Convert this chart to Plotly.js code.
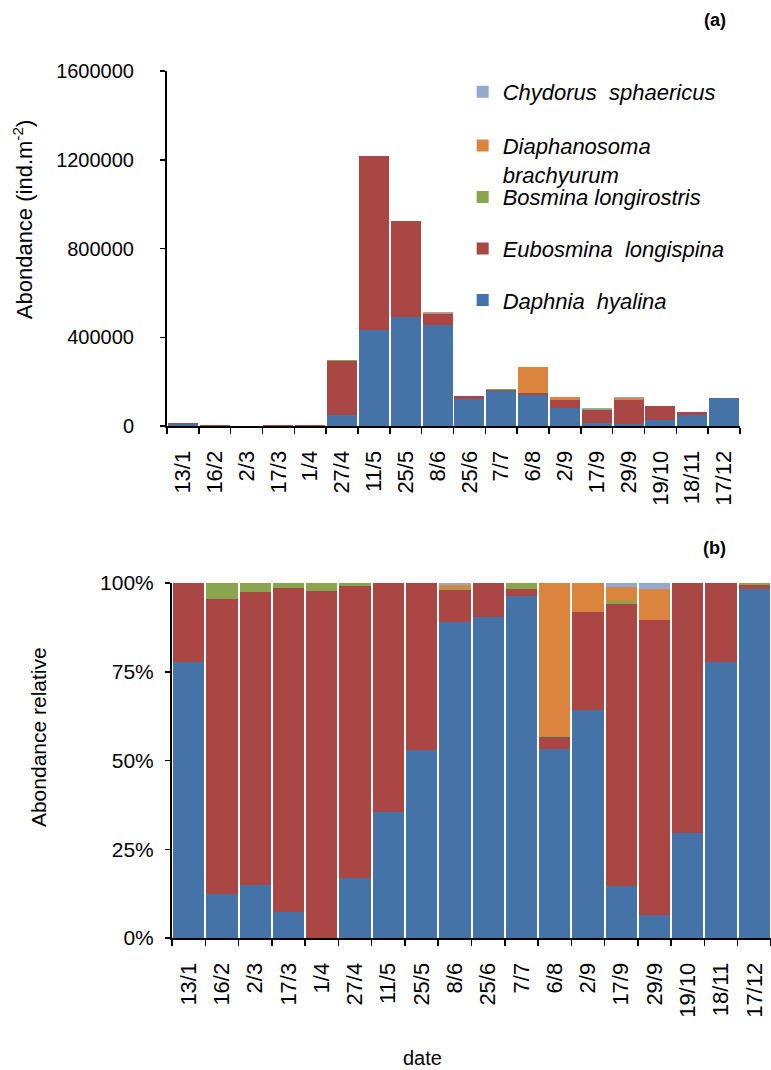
<!DOCTYPE html>
<html>
<head>
<meta charset="utf-8">
<script src="https://cdn.plot.ly/plotly-3.0.1.min.js"></script>
<style>
  html, body { margin: 0; padding: 0; background: #ffffff; }
  #top { position: absolute; left: 0; top: 0; width: 771px; height: 530px; }
  #bottom { position: absolute; left: 0; top: 530px; width: 771px; height: 540px; }
</style>
</head>
<body>
<div id="top"></div>
<div id="bottom"></div>
<script>
// Sampling dates
const dates = ['13/1','16/2','2/3','17/3','1/4','27/4','11/5','25/5','8/6','25/6','7/7','6/8','2/9','17/9','29/9','19/10','18/11','17/12'];

// Abundance (ind.m-2) per species
const daphnia      = [10900, 750, 300, 440, 0, 50700, 431000, 491000, 457000, 121000, 159700, 141000, 83000, 11500, 8400, 26000, 48200, 125800];
const eubosmina    = [3100, 4980, 1650, 5480, 5860, 244400, 784000, 435000, 46800, 13000, 3300, 9000, 35500, 62800, 107000, 62000, 13800, 1500];
const bosmina      = [0, 270, 50, 80, 140, 2900, 0, 0, 1000, 0, 3000, 1000, 0, 700, 0, 0, 0, 700];
const diaphanosoma = [0, 0, 0, 0, 0, 0, 0, 0, 6200, 0, 0, 114000, 10500, 3000, 11300, 0, 0, 0];
const chydorus     = [0, 0, 0, 0, 0, 0, 0, 0, 2600, 0, 0, 0, 0, 1000, 2300, 0, 0, 0];

const speciesNames = ['Daphnia  hyalina', 'Eubosmina  longispina', 'Bosmina longirostris', 'Diaphanosoma<br>brachyurum', 'Chydorus  sphaericus'];
const speciesData = [daphnia, eubosmina, bosmina, diaphanosoma, chydorus];
const speciesColors = ['#4572A7', '#AA4643', '#89A54E', '#DB843D', '#93A9CF'];
// which legend box each species is listed in (two boxes keep the spacing even)
const speciesLegend = ['legend2', 'legend2', 'legend2', 'legend', 'legend'];

const FONT = '"Liberation Sans", Arial, sans-serif';

function makeTraces(showLegend) {
  return speciesData.map((vals, i) => ({
    type: 'bar',
    x: dates,
    y: vals,
    name: speciesNames[i],
    legend: speciesLegend[i],
    legendgroup: 'g' + i,
    legendrank: 100 - i,
    showlegend: showLegend,
    marker: { color: speciesColors[i], line: { width: 0 } },
    hoverinfo: 'x+y+name'
  }));
}

const axisCommon = {
  showline: true, linecolor: '#000', linewidth: 2,
  ticks: 'outside', tickcolor: '#000', tickwidth: 1.5,
  showgrid: false, zeroline: false,
  tickfont: { family: FONT, size: 20, color: '#000' }
};

const xTickFont = { family: FONT, size: 22, color: '#000' };
const legendFont = { family: FONT, size: 22, style: 'italic', color: '#000' };

const topLayout = {
  width: 771, height: 530,
  margin: { l: 167, r: 31, t: 71, b: 104, pad: 0 },
  paper_bgcolor: '#fff', plot_bgcolor: '#fff',
  barmode: 'stack', bargap: 0.06,
  font: { family: FONT, color: '#000' },
  xaxis: Object.assign({}, axisCommon, {
    type: 'category', tickson: 'boundaries', ticklen: 6, tickangle: -90,
    ticklabelstandoff: 14, tickfont: xTickFont
  }),
  yaxis: Object.assign({}, axisCommon, {
    range: [0, 1600000], dtick: 400000, tickformat: 'd', ticklen: 5,
    ticklabelstandoff: 22
  }),
  showlegend: true,
  legend: {
    x: 0.516, y: 1.0, xanchor: 'left', yanchor: 'top',
    traceorder: 'grouped', tracegroupgap: 22, valign: 'top',
    bgcolor: 'rgba(0,0,0,0)', font: legendFont
  },
  legend2: {
    x: 0.516, y: 0.704, xanchor: 'left', yanchor: 'top',
    traceorder: 'grouped', tracegroupgap: 20, valign: 'top',
    bgcolor: 'rgba(0,0,0,0)', font: legendFont
  },
  annotations: [
    { text: '<b>(a)</b>', xref: 'paper', yref: 'paper', x: 0.956, y: 1.144,
      xanchor: 'center', yanchor: 'middle',
      showarrow: false, font: { family: FONT, size: 18, color: '#000' } },
    { text: 'Abondance (ind.m<sup>-2</sup>)', xref: 'paper', yref: 'paper',
      x: -0.251, y: 0.583, xanchor: 'center', yanchor: 'middle',
      textangle: -90, showarrow: false,
      font: { family: FONT, size: 22, color: '#000' } }
  ]
};

const bottomLayout = {
  width: 771, height: 540,
  margin: { l: 172, r: 0, t: 53, b: 132, pad: 0 },
  paper_bgcolor: '#fff', plot_bgcolor: '#fff',
  barmode: 'stack', barnorm: 'percent', bargap: 0.06,
  font: { family: FONT, color: '#000' },
  showlegend: false,
  xaxis: Object.assign({}, axisCommon, {
    type: 'category', tickson: 'boundaries', ticklen: 6, tickangle: -90,
    ticklabelstandoff: 14, tickfont: xTickFont
  }),
  yaxis: Object.assign({}, axisCommon, {
    range: [0, 100], dtick: 25, ticksuffix: '%', ticklen: 5,
    ticklabelstandoff: 7, tickfont: { family: FONT, size: 21, color: '#000' }
  }),
  annotations: [
    { text: '<b>(b)</b>', xref: 'paper', yref: 'paper', x: 0.9065, y: 1.0986,
      xanchor: 'center', yanchor: 'middle',
      showarrow: false, font: { family: FONT, size: 18, color: '#000' } },
    { text: 'Abondance relative', xref: 'paper', yref: 'paper',
      x: -0.2237, y: 0.566, xanchor: 'center', yanchor: 'middle',
      textangle: -90, showarrow: false,
      font: { family: FONT, size: 21, color: '#000' } },
    { text: 'date', xref: 'paper', yref: 'paper', x: 0.418, y: -0.338,
      xanchor: 'center', yanchor: 'middle',
      showarrow: false, font: { family: FONT, size: 20, color: '#000' } }
  ]
};

Plotly.newPlot('top', makeTraces(true), topLayout, { staticPlot: true });
Plotly.newPlot('bottom', makeTraces(false), bottomLayout, { staticPlot: true });
</script>
</body>
</html>
